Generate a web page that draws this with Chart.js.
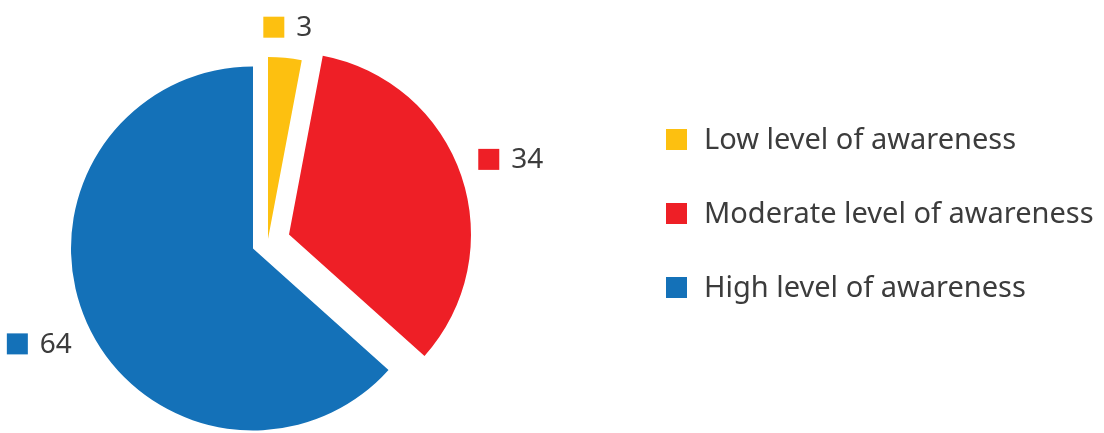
<!DOCTYPE html>
<html>
<head>
<meta charset="utf-8">
<script src="https://cdn.jsdelivr.net/npm/chart.js@4.4.1/dist/chart.umd.min.js"></script>
<style>
  html, body { margin: 0; padding: 0; background: #ffffff; }
  #wrap { position: relative; width: 1104px; height: 433px; }
  #c { position: absolute; left: 0; top: 0; }
  #legend { position: absolute; left: 666px; top: 129px; margin: 0; padding: 0; list-style: none;
            font-family: 'Noto Sans', 'Open Sans', sans-serif; font-size: 29px; color: #3c3c3c; }
  #legend li { display: flex; align-items: center; height: 21px; margin: 0 0 53px 0; white-space: nowrap; }
  #legend .sw { width: 21px; height: 21px; flex: none; }
  #legend .tx { margin-left: 17px; line-height: 21px; position: relative; top: -2px; }
</style>
</head>
<body>
<div id="wrap">
  <canvas id="c" width="1104" height="433"></canvas>
  <ul id="legend"></ul>
</div>
<script>
// ---- data ----
const categories = ['Low level of awareness', 'Moderate level of awareness', 'High level of awareness'];
const values = [3, 34, 64];
const colors = ['#FDC010', '#EE1F26', '#1471B8'];

// ---- style ----
const explodeX = [15, 36, 0];   // pixel shift of exploded slices
const explodeY = [-9.5, -14, 0];
const textColor = '#3c3c3c';
const fontFamily = "'Noto Sans', 'Open Sans', sans-serif";

// HTML legend built from the data arrays
const legendEl = document.getElementById('legend');
categories.forEach((name, i) => {
  const li = document.createElement('li');
  const sw = document.createElement('span');
  sw.className = 'sw';
  sw.style.background = colors[i];
  const tx = document.createElement('span');
  tx.className = 'tx';
  tx.textContent = name;
  li.appendChild(sw);
  li.appendChild(tx);
  legendEl.appendChild(li);
});

const explodePlugin = {
  id: 'explode',
  afterDatasetsUpdate(chart) {
    const meta = chart.getDatasetMeta(0);
    meta.data.forEach((el, i) => {
      el.x += explodeX[i] || 0;
      el.y += explodeY[i] || 0;
    });
  }
};

const labelPlugin = {
  id: 'sliceLabels',
  afterDatasetsDraw(chart) {
    const ctx = chart.ctx;
    const meta = chart.getDatasetMeta(0);
    const sq = 21, gap = 12, out = 18;
    ctx.save();
    ctx.font = '28px ' + fontFamily;
    ctx.textBaseline = 'middle';
    ctx.textAlign = 'left';
    meta.data.forEach((el, i) => {
      const mid = (el.startAngle + el.endAngle) / 2;
      const cx = Math.cos(mid), cy = Math.sin(mid);
      const px = el.x + cx * el.outerRadius;
      const py = el.y + cy * el.outerRadius;
      const txt = String(values[i]);
      const tw = ctx.measureText(txt).width;
      const w = sq + gap + tw, h = sq;
      const ext = Math.abs(cx) * w / 2 + Math.abs(cy) * h / 2;
      const lx = px + cx * (out + ext);
      const ly = py + cy * (out + ext);
      const left = lx - w / 2, top = ly - h / 2;
      ctx.fillStyle = colors[i];
      ctx.fillRect(left, top, sq, sq);
      ctx.fillStyle = textColor;
      ctx.fillText(txt, left + sq + gap, ly + 1);
    });
    ctx.restore();
  }
};

new Chart(document.getElementById('c'), {
  type: 'pie',
  data: {
    labels: categories,
    datasets: [{
      data: values,
      backgroundColor: colors,
      borderWidth: 0,
      radius: 182,
      clip: false
    }]
  },
  options: {
    responsive: false,
    animation: false,
    events: [],
    layout: { padding: { left: 0, right: 598, top: 64, bottom: 0 } },
    plugins: {
      tooltip: { enabled: false },
      legend: { display: false }
    }
  },
  plugins: [explodePlugin, labelPlugin]
});
</script>
</body>
</html>
